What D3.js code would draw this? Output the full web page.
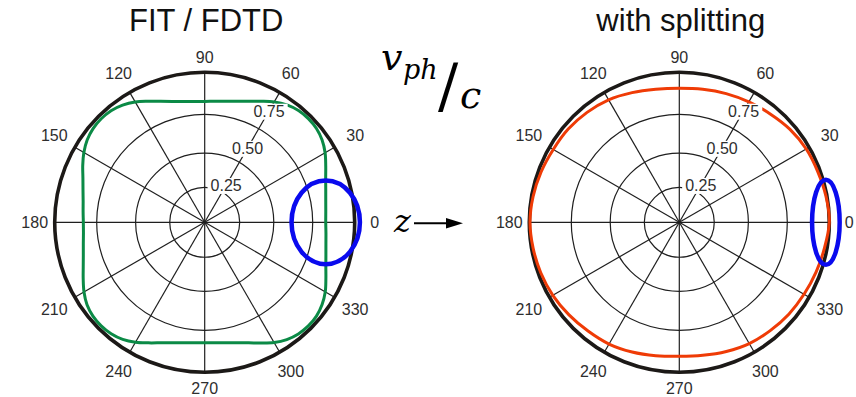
<!DOCTYPE html>
<html>
<head>
<meta charset="utf-8">
<script src="https://cdn.jsdelivr.net/npm/d3@7"></script>
<style>
  html, body { margin: 0; padding: 0; background: #fff; }
  svg { display: block; }
</style>
</head>
<body>
<svg id="chart" width="856" height="397"></svg>
<script>
// ---- data -------------------------------------------------------------
// Polar angle ticks (degrees) and radial (v_ph / c) ticks
const angleTicks = [0, 30, 60, 90, 120, 150, 180, 210, 240, 270, 300, 330];
const radialTicks = [0.25, 0.5, 0.75];
const gridLevels = [0.204, 0.403, 0.63];
const radialMax = 0.875;

// FIT / FDTD: normalised phase velocity versus propagation angle
const fitAngles = [
  0, 5, 10, 15, 20, 25, 30, 35, 40, 45, 50, 55, 60, 65, 70, 75, 80, 85,
  90, 95, 100, 105, 110, 115, 120, 125, 130, 135, 140, 145, 150, 155, 160, 165, 170, 175,
  180, 185, 190, 195, 200, 205, 210, 215, 220, 225, 230, 235, 240, 245, 250, 255, 260, 265,
  270, 275, 280, 285, 290, 295, 300, 305, 310, 315, 320, 325, 330, 335, 340, 345, 350, 355
];
const fitVph = [
  0.706, 0.709, 0.717, 0.731, 0.751, 0.779, 0.811, 0.836, 0.851, 0.855, 0.851, 0.836, 0.811, 0.779, 0.751, 0.731, 0.717, 0.709,
  0.705, 0.708, 0.716, 0.730, 0.751, 0.779, 0.811, 0.835, 0.850, 0.854, 0.850, 0.837, 0.814, 0.785, 0.756, 0.735, 0.720, 0.712,
  0.708, 0.710, 0.719, 0.733, 0.754, 0.782, 0.813, 0.838, 0.851, 0.854, 0.849, 0.834, 0.808, 0.776, 0.748, 0.727, 0.713, 0.705,
  0.702, 0.705, 0.713, 0.728, 0.748, 0.777, 0.810, 0.835, 0.850, 0.855, 0.851, 0.836, 0.812, 0.780, 0.752, 0.732, 0.718, 0.710
];

// With splitting
const splitAngles = [
  0, 10, 20, 30, 40, 50, 60, 70, 80, 90, 100, 110, 120, 130, 140, 150, 160, 170,
  180, 190, 200, 210, 220, 230, 240, 250, 260, 270, 280, 290, 300, 310, 320, 330, 340, 350
];
const splitVph = [
  0.875, 0.869, 0.860, 0.855, 0.843, 0.825, 0.811, 0.799, 0.788, 0.782, 0.788, 0.805, 0.825, 0.837, 0.846, 0.849, 0.858, 0.866,
  0.871, 0.866, 0.860, 0.852, 0.840, 0.828, 0.820, 0.805, 0.790, 0.782, 0.788, 0.802, 0.817, 0.825, 0.834, 0.840, 0.849, 0.860
];

// Highlight ellipses around the z direction: [angle, radius, semi-axis along r, semi-axis across]
const fitHighlight = [0, 0.706, 0.1995, 0.244];
const splitHighlight = [0, 0.855, 0.0805, 0.248];

// ---- layout -----------------------------------------------------------
const outerRadius = 150;
const panels = [
  { cx: 204.7, cy: 222.3, title: "FIT / FDTD", angles: fitAngles, values: fitVph, color: "#0b8a46", mark: fitHighlight },
  { cx: 679.3, cy: 222.3, title: "with splitting", angles: splitAngles, values: splitVph, color: "#ef3b06", mark: splitHighlight }
];

const svg = d3.select("#chart");
const rScale = d3.scaleLinear().domain([0, radialMax]).range([0, outerRadius]);
const toRad = deg => deg * Math.PI / 180;
const gridColor = "#1f1f1f";
const labelFont = "'Liberation Sans', Arial, sans-serif";

// distance of an angle label beyond the frame: a little further out on the diagonals
const labelOffset = deg => 15.5 + 4.5 * Math.abs(Math.cos(toRad(deg))) + 5 * Math.abs(Math.sin(toRad(2 * deg)));

panels.forEach(p => {
  const g = svg.append("g").attr("transform", `translate(${p.cx},${p.cy})`);
  const pt = (deg, r) => [r * Math.cos(toRad(deg)), -r * Math.sin(toRad(deg))];

  // title
  svg.append("text")
    .attr("x", p.cx + 1.5).attr("y", 30.5)
    .attr("text-anchor", "middle")
    .attr("font-family", labelFont).attr("font-size", 31)
    .attr("fill", "#111")
    .text(p.title);

  // grid rings
  g.selectAll("circle.ring").data(gridLevels).join("circle")
    .attr("class", "ring")
    .attr("r", d => rScale(d))
    .attr("fill", "none").attr("stroke", gridColor).attr("stroke-width", 1.2);

  // spokes
  g.selectAll("line.spoke").data(angleTicks).join("line")
    .attr("class", "spoke")
    .attr("x1", 0).attr("y1", 0)
    .attr("x2", d => pt(d, rScale(radialMax))[0])
    .attr("y2", d => pt(d, rScale(radialMax))[1])
    .attr("stroke", gridColor).attr("stroke-width", 1.2);

  // outer frame
  g.append("circle")
    .attr("r", rScale(radialMax))
    .attr("fill", "none").attr("stroke", "#1c1917").attr("stroke-width", 3.6);

  // angle labels
  g.selectAll("text.ang").data(angleTicks).join("text")
    .attr("class", "ang")
    .attr("x", d => pt(d, rScale(radialMax) + labelOffset(d))[0])
    .attr("y", d => pt(d, rScale(radialMax) + labelOffset(d))[1])
    .attr("dy", "0.36em")
    .attr("text-anchor", "middle")
    .attr("font-family", labelFont).attr("font-size", 16)
    .attr("fill", "#2e2e2e")
    .text(d => d);

  // phase-velocity curve
  const line = d3.lineRadial()
    .angle(d => toRad(90 - p.angles[d]))
    .radius(d => rScale(p.values[d]))
    .curve(d3.curveCatmullRomClosed.alpha(0.5));
  g.append("path")
    .attr("d", line(d3.range(p.angles.length)))
    .attr("fill", "none").attr("stroke", p.color)
    .attr("stroke-width", 3).attr("stroke-linejoin", "round");

  // radial tick labels along the 60 degree spoke, on white boxes
  const rl = g.selectAll("g.rlab").data(radialTicks).join("g")
    .attr("class", "rlab")
    .attr("transform", d => `translate(${pt(60, rScale(d))})`);
  rl.append("rect").attr("fill", "#fff");
  rl.append("text")
    .attr("dy", "0.36em")
    .attr("text-anchor", "middle")
    .attr("font-family", labelFont).attr("font-size", 16)
    .attr("fill", "#2e2e2e")
    .text(d => d.toFixed(2));
  rl.each(function () {
    const b = d3.select(this).select("text").node().getBBox();
    d3.select(this).select("rect")
      .attr("x", b.x - 3).attr("y", b.y + 1)
      .attr("width", b.width + 6).attr("height", b.height - 1);
  });

  // highlight ellipse
  const [ma, mr, ex, ey] = p.mark;
  const c = pt(ma, rScale(mr));
  g.append("ellipse")
    .attr("cx", c[0]).attr("cy", c[1])
    .attr("rx", rScale(ex)).attr("ry", rScale(ey))
    .attr("fill", "none").attr("stroke", "#0a0aee").attr("stroke-width", 4.5);
});

// v_ph / c annotation between the panels
const mathFont = "'DejaVu Serif', 'Liberation Serif', serif";
const vt = svg.append("text")
  .attr("font-family", mathFont).attr("font-style", "italic").attr("fill", "#000");
vt.append("tspan").attr("x", 381).attr("y", 70).attr("font-size", 38).text("v");
vt.append("tspan").attr("x", 403).attr("y", 79).attr("font-size", 27).text("ph");
svg.append("text")
  .attr("x", 438).attr("y", 106)
  .attr("font-family", mathFont).attr("font-size", 60).attr("fill", "#000")
  .text("/");
svg.append("text")
  .attr("x", 460).attr("y", 108)
  .attr("font-family", mathFont).attr("font-style", "italic").attr("font-size", 38).attr("fill", "#000")
  .text("c");

// z direction arrow
svg.append("text")
  .attr("x", 394).attr("y", 232)
  .attr("font-family", mathFont).attr("font-style", "italic").attr("font-size", 32).attr("fill", "#000")
  .text("z");
svg.append("line")
  .attr("x1", 414).attr("y1", 223.3).attr("x2", 450).attr("y2", 223.3)
  .attr("stroke", "#000").attr("stroke-width", 2);
svg.append("path")
  .attr("d", "M446,218 L463,223.3 L446,228.6 Z")
  .attr("fill", "#000");
</script>
</body>
</html>
